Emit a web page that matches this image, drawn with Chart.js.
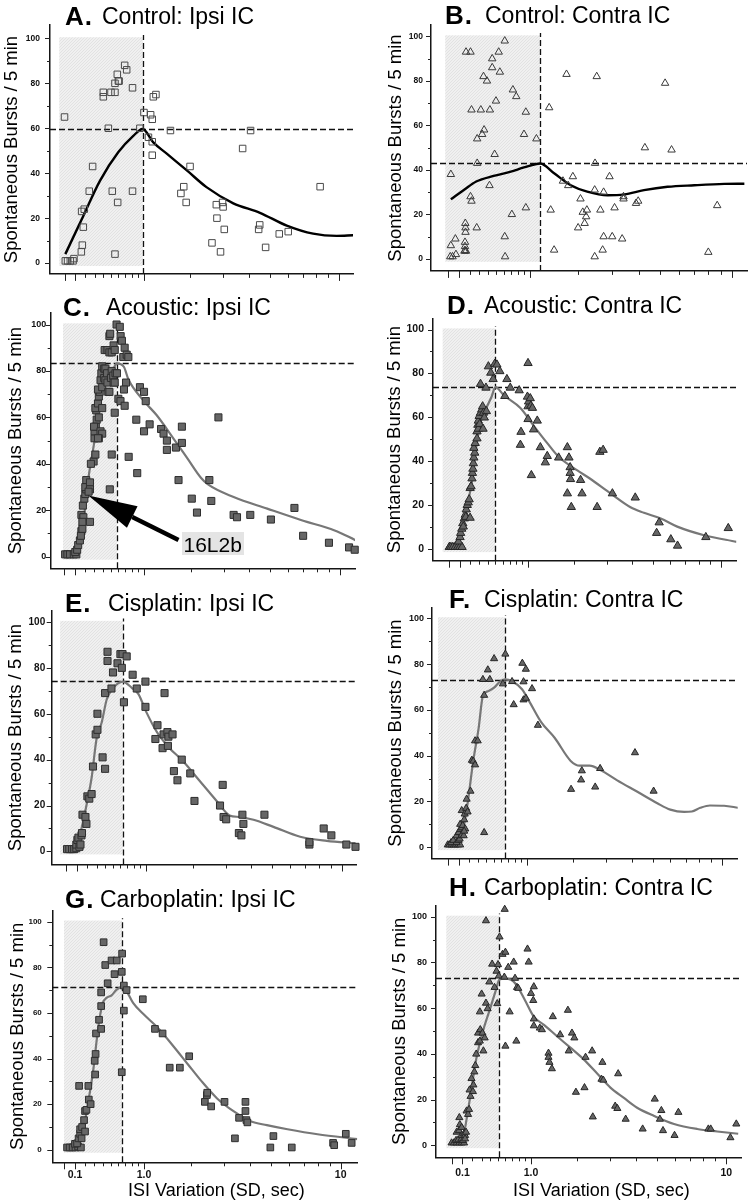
<!DOCTYPE html>
<html><head><meta charset="utf-8">
<script src="https://cdn.jsdelivr.net/npm/chart.js@4/dist/chart.umd.min.js"></script>
<style>
html,body{margin:0;padding:0;background:#fff;}
body{width:754px;height:1201px;position:relative;overflow:hidden;font-family:"Liberation Sans",Arial,Helvetica,sans-serif;}
canvas{position:absolute;}
.t{position:absolute;white-space:nowrap;line-height:1;color:#000;}
</style></head><body>
<script>
// ---------------- DATA (ISI variation in seconds, bursts / 5 min) ----------------
// A. Control: Ipsi IC
const ctrlIpsiX = [0,0.007,0.027,0.052,0.077,0.086,0.158,0.168,0.178,0.161,0.188,0.241,0.278,0.403,0.403,0.466,0.5,0.517,0.553,0.553,0.585,0.6,0.61,0.553,0.59,0.69,0.72,0.81,0.81,0.93,1.0,1.08,1.12,1.15,1.17,1.22,1.15,1.15,1.52,1.76,1.83,1.89,1.99,2.62,2.76,2.78,2.9,2.97,2.99,3.03,3.73,4.07,4.44,4.49,4.78,5.51,6.04,8.3];
const ctrlIpsiY = [65,1,1,1,1,2,5,8,16,23,24,32,43,74,76,60,76,32,76,80,84,81,81,4,27,88,86,78,32,60,67,56,66,64,74,75,54,48,59,31,34,27,43,9,26,20,5,27,25,15,51,59,15,17,7,13,14,34];
const ctrlIpsiFitX = [0.007,0.178,0.362,0.6,0.822,0.977,1.17,1.44,1.93,2.45,3.36,4.5,5.95,7.75,9.74,11.4];
const ctrlIpsiFitY = [4,21,36.6,49.4,56.6,59.7,53.7,48.7,40.9,33.8,26.6,22.4,16.7,13.1,12.1,12.4];

// B. Control: Contra IC
const ctrlContraX = [0.025,0.025,0.02,0.04,0.07,0.065,0.165,0.21,0.158,0.16,0.16,0.155,0.155,0.155,0.15,0.165,0.21,0.22,0.22,0.275,0.28,0.28,0.32,0.335,0.357,0.35,0.39,0.425,0.42,0.453,0.453,0.483,0.5,0.535,0.55,0.615,0.615,0.62,0.715,0.73,0.78,0.9,0.93,0.93,1.11,1.35,1.38,1.45,1.64,1.72,1.76,1.87,2.0,2.06,2.12,2.17,2.21,2.23,2.45,2.46,2.45,2.51,2.62,2.69,2.72,2.72,2.91,3.0,3.08,3.35,3.4,3.4,3.89,3.98,4.27,5.25,5.6,8.0,8.7];
const ctrlContraY = [38,6,1,1,2,9,93,93,16,14,12,7.5,5.6,3.8,3.5,3.5,28,26,67,14,54,43,67,56,58,82,80,67,33,90,86,47,71,93,84,98,10,1,20,76,73,56,66,23,54,68,22,4,35,83,33,37,14,27,21,16,19,22,1,43,31,82,22,4,10,30,37,10,23,9,27,28,25,26,50,79,49,3,24];
const ctrlContraFitX = [0.025,0.15,0.27,0.47,0.7,0.9,1.18,1.45,1.82,2.24,2.85,3.43,4.23,5.38,7.0,9.3,11.2];
const ctrlContraFitY = [26.8,31.2,34.8,37.3,39.2,41.1,42.9,38.5,33.1,30.2,28.6,29,30.9,32.4,33.1,33.7,33.8];

// C. Acoustic: Ipsi IC
const acIpsiX = [0.007,0.027,0.05,0.086,0.11,0.1,0.118,0.128,0.145,0.16,0.155,0.17,0.16,0.18,0.17,0.175,0.19,0.2,0.21,0.2,0.21,0.25,0.25,0.235,0.25,0.29,0.31,0.26,0.3,0.3,0.315,0.325,0.295,0.32,0.31,0.34,0.35,0.36,0.34,0.35,0.37,0.39,0.38,0.39,0.37,0.39,0.39,0.35,0.34,0.415,0.43,0.42,0.455,0.48,0.49,0.48,0.415,0.43,0.45,0.455,0.465,0.5,0.51,0.53,0.535,0.55,0.56,0.51,0.535,0.55,0.48,0.51,0.485,0.55,0.575,0.62,0.632,0.65,0.58,0.6,0.63,0.67,0.69,0.72,0.745,0.71,0.68,0.69,0.75,0.87,0.885,0.93,1.0,1.0,1.03,1.1,1.32,1.37,1.44,1.44,1.64,1.7,1.78,1.78,2.03,2.17,2.53,2.59,2.82,3.36,3.49,4.04,5.03,6.4,6.98,8.99,10.9,11.5];
const acIpsiY = [1,1,1,1,1,2,3,5,7,11,9,12,18,17,15,22,25,27,29,30,33,32,29,28,15,41,44,40,51,54,56,59,56,63,64,66,69,71,72,60,76,73,79,82,54,53,64,51,51,81,81,89,89,95,96,88,77,76,79,75,71,77,80,78,75,75,79,88,91,89,71,44,29,62,100,99,95,93,79,68,67,86,90,87,86,75,72,65,43,59,36,73,71,54,67,57,55,53,50,46,47,33,56,49,25,19,33,24,60,18,17,18,16,21,9,6,4,3];
const acIpsiFitX = [0.027,0.1,0.145,0.2,0.23,0.3,0.35,0.43,0.55,0.578,0.68,0.745,1.0,1.23,1.58,1.93,2.28,2.5,3.36,4.84,6.88,9.5,11.6];
const acIpsiFitY = [0.7,1.4,7.9,21.4,32.9,50,64.3,75.7,82,83.3,81.7,76.4,67,61,51,42,34,31,25.7,20.7,15.7,11.3,7.1];

// D. Acoustic: Contra IC
const acContraX = [0,0,0.013,0.03,0.052,0.074,0.095,0.118,0.083,0.098,0.104,0.115,0.125,0.14,0.15,0.13,0.16,0.17,0.18,0.19,0.155,0.2,0.2,0.21,0.22,0.225,0.23,0.235,0.24,0.25,0.24,0.255,0.275,0.275,0.285,0.29,0.3,0.315,0.33,0.34,0.29,0.305,0.345,0.35,0.385,0.36,0.315,0.38,0.41,0.44,0.47,0.49,0.52,0.56,0.63,0.66,0.71,0.85,0.88,0.87,1.0,1.0,1.01,0.99,1.0,1.04,1.05,1.08,1.1,1.17,1.06,1.23,1.33,1.37,1.62,1.83,1.87,1.9,1.9,1.83,1.91,1.93,2.18,2.22,2.68,2.77,2.88,3.21,4.15,5.36,5.22,6.05,6.48,8.6,10.7];
const acContraY = [1,1,1,1,1,1,1,1,3.5,5.5,7.4,9.3,11.8,14,15.7,10.3,18.1,20.1,21.3,22.7,14.7,14.3,27.8,28.6,32.2,34.7,36.6,39.1,41.7,43.9,46.1,48.3,50.4,53.6,56.6,58.5,60.6,62.1,63.6,65,54.8,57,54.8,62.1,62.8,59.9,75.2,73.5,83.2,80.3,77.4,84.3,84,81,69.7,77.4,73.5,72.3,53.4,47.5,84.7,65,67.2,69.4,59.2,68.7,65.3,64.3,54.5,58.5,33.7,46.4,39.5,42.4,41.7,46.4,41.7,37.3,34.7,25.4,31.9,19.2,31.5,25.4,19.2,44.3,45.2,25.4,23.5,12.2,7.4,4.5,1.6,5.5,9.6];
const acContraFitX = [0,0.07,0.115,0.16,0.22,0.265,0.315,0.385,0.45,0.5,0.615,0.87,1.1,1.37,1.62,2.09,2.45,3.14,3.94,4.56,5.45,6.46,8.45,11.6];
const acContraFitY = [1.2,3.8,9.6,18.4,30.8,46.1,57.7,64.3,69.4,73.8,70.1,64.3,56.3,48.3,42.1,35.9,32.2,25.4,19.1,16.6,14,10.3,6.4,3.4];

// E. Cisplatin: Ipsi IC
const cisIpsiX = [0.005,0.025,0.05,0.07,0.09,0.09,0.1,0.11,0.12,0.13,0.14,0.145,0.15,0.18,0.19,0.2,0.22,0.245,0.26,0.29,0.31,0.31,0.37,0.4,0.4,0.43,0.43,0.48,0.5,0.56,0.6,0.62,0.63,0.65,0.69,0.78,0.845,0.99,0.99,1.17,1.21,1.31,1.35,1.33,1.41,1.43,1.52,1.42,1.55,1.63,1.73,1.94,2.05,2.81,2.9,2.93,3.02,3.49,3.59,3.63,3.67,4.61,7.3,7.3,8.4,9.05,10.45,11.4];
const cisIpsiY = [1,1,1,1,1.4,3,5,6,2,3,7,8,16,15,12,24,23,25,37,51,53,60,41,36,69,87,83,71,78,82,86,80,86,65,85,77,71,74,63,49,55,45,69,51,52,50,51,46,35,31,40,34,22,20,29,15,14,8,7,16,12,16,3,4,10,7,3,2];
const cisIpsiFitX = [0.005,0.1,0.14,0.2,0.245,0.3,0.36,0.42,0.49,0.633,0.77,0.87,1.01,1.2,1.46,1.73,2.2,2.7,3.14,3.52,4.1,5.07,6.66,8.66,11.4];
const cisIpsiFitY = [0.7,3.6,10,22.1,32.1,49.1,56.3,66.2,70.7,74,71.2,68.7,60.5,52,44.9,39.9,30.6,22,15.7,15,13.8,10.7,6.4,4.6,3.6];

// F. Cisplatin: Contra IC
const cisContraX = [0,0.013,0.035,0.055,0.072,0.095,0.115,0.03,0.05,0.08,0.1,0.11,0.08,0.1,0.115,0.13,0.13,0.15,0.115,0.14,0.165,0.155,0.155,0.13,0.16,0.175,0.18,0.19,0.22,0.235,0.25,0.27,0.27,0.3,0.375,0.375,0.36,0.42,0.445,0.5,0.62,0.655,0.755,0.78,0.92,0.94,0.98,0.94,0.98,1.09,1.2,1.94,2.21,2.23,2.63,2.79,4.14,5.05];
const cisContraY = [1,1,1,1,1,1,1,2,3,2,3,3.6,5,6.4,7.8,8.5,5.3,5,10,9.5,8,7,12,16,14.5,17,21,15.4,24.5,38,37.6,36,46.5,46.5,6.4,66.4,73.3,77.5,73.3,82.4,71.4,84.4,72.4,62.3,80.4,72.3,77.8,64.4,65.1,69.3,53.3,25.3,29.4,33.4,26.3,34.4,41.3,24.5];
const cisContraFitX = [0,0.08,0.15,0.19,0.25,0.31,0.36,0.43,0.5,0.58,0.655,0.755,0.915,1.05,1.26,1.55,1.93,2.17,2.46,2.8,3.4,4.25,5.25,6.0,6.9,7.45,8.1,8.9,10.2,11.7];
const cisContraFitY = [1.1,3.6,9.2,19.2,37.7,51.9,66.1,68.3,69.7,72.4,73.3,72.5,69,63.3,54.8,47.7,37.7,35.6,35.6,33.7,29.2,24.2,19.2,16.4,15.4,15.6,17.2,18.2,18.1,17.2];

// G. Carboplatin: Ipsi IC
const carbIpsiX = [0.027,0.05,0.078,0.105,0.13,0.158,0.1,0.12,0.135,0.15,0.165,0.14,0.15,0.17,0.19,0.2,0.215,0.2,0.24,0.235,0.26,0.305,0.315,0.31,0.32,0.355,0.38,0.38,0.38,0.41,0.43,0.46,0.51,0.55,0.58,0.655,0.65,0.68,0.72,0.68,0.65,0.98,1.2,1.35,1.5,1.73,1.96,2.39,2.45,2.46,2.58,3.02,3.4,3.56,3.82,3.82,3.86,3.9,4.98,5.14,6.2,9.3,9.4,10.5,11.1];
const carbIpsiY = [1,1,1,1,1.4,1,2.6,2.8,5,7,5,28,9,10,13,17,17.5,8,22,28,20,39,42,33,51,57,53,63,69,91,81,73,83,77,83,86,78,72,70,61,34,66,53,51,36,36,41,21,24,25,19,21,5,14,21,17,13,12,1,6,1,3,2,7,3];
const carbIpsiFitX = [0.027,0.13,0.19,0.24,0.29,0.33,0.36,0.4,0.445,0.51,0.575,0.653,0.72,0.82,0.99,1.24,1.59,1.93,2.28,2.77,3.36,4.04,4.8,5.94,8.0,11.7];
const carbIpsiFitY = [1.1,5.4,11.1,22.5,35.3,48.8,57.3,64.4,66.6,67.7,70.1,71.3,69.5,64.4,59.5,53.8,45.2,37.4,30.3,22.5,16.8,12.5,10.8,9.0,6.8,4.7];

// H. Carboplatin: Contra IC
const carbContraX = [0,0.02,0.045,0.07,0.093,0.115,0.04,0.06,0.09,0.105,0.045,0.067,0.092,0.115,0.07,0.075,0.092,0.125,0.135,0.125,0.14,0.155,0.165,0.18,0.17,0.19,0.205,0.21,0.22,0.23,0.24,0.26,0.26,0.28,0.285,0.28,0.3,0.31,0.32,0.335,0.35,0.37,0.35,0.39,0.425,0.455,0.48,0.49,0.5,0.51,0.52,0.56,0.585,0.59,0.6,0.6,0.64,0.66,0.72,0.74,0.76,0.77,0.79,0.94,0.96,1.0,1.04,1.05,1.05,1.05,1.16,1.2,1.42,1.33,1.33,1.35,1.4,1.58,1.76,1.86,1.92,1.78,1.96,2.19,2.22,2.41,2.43,2.73,2.7,2.76,3.17,3.25,3.28,3.57,4.3,4.89,5.16,5.24,5.33,6.0,6.24,8.4,8.6,10.4,11.0];
const carbContraY = [1,1,1,1,1,1,2.1,2.4,2.8,2.1,5.7,6.4,4.3,5,12.1,9,7.8,4.3,5.7,2.8,15,13.5,15.7,21.4,24.2,29.2,23.5,26.4,32.1,34.9,39.9,44.9,49.1,45.6,50.6,58.4,66.2,49.1,41.3,47,62.2,59.8,98.3,71.5,79.3,69.1,76.2,62,79.1,74.1,91.2,83.6,73.6,103.3,43.4,84.5,77.9,58.4,80.2,73.1,45.6,69.1,68.7,85.9,80.2,66.5,63.4,69.4,55.3,52.3,51.3,50.6,56.3,40.3,38.5,36.3,33.5,48.4,59.1,49.1,47,41.3,23.2,25.2,38.5,41.3,12.4,36.3,28.9,28.5,17.1,16.1,31.3,11.4,7.1,20.2,11.4,15.2,6.4,4.3,14.4,7.1,7.1,3.3,9.3];
const carbContraFitX = [0,0.105,0.14,0.19,0.24,0.32,0.4,0.47,0.517,0.585,0.68,0.77,0.9,1.05,1.24,1.51,1.82,2.16,2.57,3.0,3.5,4.05,4.86,5.97,7.53,9.16,11.2];
const carbContraFitY = [1,3.6,11.4,24.9,37.7,50.6,59.8,67.7,72.5,72.9,72.5,69.8,63.4,56.3,52.7,47.7,42.7,37.7,31.3,25.2,20.7,16.4,12.8,9.3,7.1,6,5];

// Peak of each fitted curve (dashed cross-hairs), panels A..H
const peakX = [0.98,1.18,0.578,0.499,0.633,0.654,0.653,0.517];
const peakY = [59.7,42.9,83.5,73.8,74.1,73.2,71.3,73.4];

// Text
const panelLetters = ['A.','B.','C.','D.','E.','F.','G.','H.'];
const panelTitles = ['Control: Ipsi IC','Control: Contra IC','Acoustic: Ipsi IC','Acoustic: Contra IC','Cisplatin: Ipsi IC','Cisplatin: Contra IC','Carboplatin: Ipsi IC','Carboplatin: Contra IC'];
const yAxisTitle = 'Spontaneous Bursts / 5 min';
const xAxisTitle = 'ISI Variation (SD, sec)';

// Ticks
const xTickValues = [0,0.1,0.2,0.3,0.4,0.5,0.6,0.7,0.8,0.9,1,2,3,4,5,6,7,8,9,10];
const xTickLabels = ['','0.1','','','','','','','','','1.0','','','','','','','','','10'];
const xTickMajor = [1,1,0,0,0,0,0,0,0,0,1,0,0,0,0,0,0,0,0,1];
const yTickValues = [0,10,20,30,40,50,60,70,80,90,100];

// ---------------- LAYOUT / STYLE ----------------
const U = v => Math.log10(1 + v);   // axis transform: log10(ISI + 1)
const FONT = '"Liberation Sans", Arial, Helvetica, sans-serif';

const series = [
  {px:ctrlIpsiX, py:ctrlIpsiY, fx:ctrlIpsiFitX, fy:ctrlIpsiFitY},
  {px:ctrlContraX, py:ctrlContraY, fx:ctrlContraFitX, fy:ctrlContraFitY},
  {px:acIpsiX, py:acIpsiY, fx:acIpsiFitX, fy:acIpsiFitY},
  {px:acContraX, py:acContraY, fx:acContraFitX, fy:acContraFitY},
  {px:cisIpsiX, py:cisIpsiY, fx:cisIpsiFitX, fy:cisIpsiFitY},
  {px:cisContraX, py:cisContraY, fx:cisContraFitX, fy:cisContraFitY},
  {px:carbIpsiX, py:carbIpsiY, fx:carbIpsiFitX, fy:carbIpsiFitY},
  {px:carbContraX, py:carbContraY, fx:carbContraFitX, fy:carbContraFitY}
];

const styles = [
  {shape:'rect', r:4.6, fill:'rgba(0,0,0,0)', stroke:'#4a4a4a', line:'#000', lw:2.4},
  {shape:'triangle', r:4.3, fill:'rgba(0,0,0,0)', stroke:'#3a3a3a', line:'#000', lw:2.4},
  {shape:'rect', r:5.0, fill:'#666666', stroke:'#2e2e2e', line:'#777777', lw:2.2},
  {shape:'triangle', r:4.8, fill:'#666666', stroke:'#262626', line:'#777777', lw:2.2},
  {shape:'rect', r:5.0, fill:'#666666', stroke:'#2e2e2e', line:'#777777', lw:2.2},
  {shape:'triangle', r:4.1, fill:'#666666', stroke:'#262626', line:'#777777', lw:2.2},
  {shape:'rect', r:4.7, fill:'#666666', stroke:'#2e2e2e', line:'#777777', lw:2.2},
  {shape:'triangle', r:4.1, fill:'#666666', stroke:'#262626', line:'#777777', lw:2.2}
];

const layout = [
  {axisX:50,   right:353,   top:18.3,  bottom:277,    tcx:11.7,  uMin:-0.055, uMax:1.093, yMin:-4.8, yMax:105.9, yPad:10,  yFs:8.5, shadeU:-0.02,  letterL:65,  textL:102, base:24},
  {axisX:431,  right:747,   top:20,    bottom:271.7,  tcx:396.2, uMin:-0.062, uMax:1.096, yMin:-5.4, yMax:105.1, yPad:8,   yFs:8.5, shadeU:-0.01,  letterL:445, textL:485, base:23},
  {axisX:50.7, right:355,   top:311.7, bottom:568.3,  tcx:15.8,  uMin:-0.0515,uMax:1.098, yMin:-5.0, yMax:105.0, yPad:4.5, yFs:9,   shadeU:-0.005, letterL:63,  textL:106, base:315},
  {axisX:433,  right:736.3, top:311.7, bottom:564,    tcx:394.5, uMin:-0.063, uMax:1.099, yMin:-5.2, yMax:105.1, yPad:9,   yFs:10.5,shadeU:-0.026, letterL:447, textL:484, base:313},
  {axisX:51.7, right:356.7, top:606,   bottom:865,    tcx:15.8,  uMin:-0.0558,uMax:1.098, yMin:-5.7, yMax:105,   yPad:6.5, yFs:10,  shadeU:-0.024, letterL:65,  textL:108, base:611},
  {axisX:432,  right:737.7, top:602.7, bottom:860,    tcx:396,   uMin:-0.0597,uMax:1.101, yMin:-5.0, yMax:104.8, yPad:8,   yFs:9,   shadeU:-0.037, letterL:449, textL:484, base:607},
  {axisX:52.3, right:357.3, top:903.3, bottom:1162.3, tcx:17.5,  uMin:-0.044, uMax:1.104, yMin:-5.5, yMax:105,   yPad:10.5,yFs:8,   shadeU:0.0,    letterL:65,  textL:100, base:907.5, xLabels:true, xPad:6.7, xTitleL:128},
  {axisX:436,  right:741,   top:899.3, bottom:1157.3, tcx:399.5, uMin:-0.059, uMax:1.097, yMin:-5.3, yMax:105,   yPad:9,   yFs:9,   shadeU:-0.02,  letterL:449, textL:484, base:895,   xLabels:true, xPad:9.7, xTitleL:513}
];

// annotation in panel C
const annotC = {tipX:0.232, tipY:26.4, tailX:1.70, tailY:7.2, head:49, half:12, label:'16L2b'};

function shadePattern(ctx){
  const c = document.createElement('canvas'); c.width = 3; c.height = 3;
  const g = c.getContext('2d');
  g.fillStyle = '#f0f0f0'; g.fillRect(0,0,3,3);
  g.fillStyle = '#e2e2e2'; g.fillRect(0,0,1,1); g.fillRect(1,2,1,1); g.fillRect(2,1,1,1);
  return ctx.createPattern(c, 'repeat');
}

const decor = {
  id: 'decor',
  beforeDatasetsDraw(chart, args, o){
    const {ctx, chartArea: ca, scales: {x, y}} = chart;
    ctx.save();
    const xl = x.getPixelForValue(o.shadeU);
    const xr = x.getPixelForValue(U(o.peakX));
    const yt = y.getPixelForValue(100.5), yb = y.getPixelForValue(-1.3);
    ctx.fillStyle = shadePattern(ctx);
    ctx.fillRect(xl, yt, xr - xl, yb - yt);
    ctx.strokeStyle = '#111'; ctx.lineWidth = 1.3; ctx.setLineDash([6, 3]);
    const hy = Math.round(y.getPixelForValue(o.peakY)) + 0.5;
    ctx.beginPath(); ctx.moveTo(ca.left, hy); ctx.lineTo(ca.right, hy); ctx.stroke();
    const vx = Math.round(xr) + 0.5;
    ctx.beginPath(); ctx.moveTo(vx, ca.bottom); ctx.lineTo(vx, y.getPixelForValue(101.5)); ctx.stroke();
    ctx.restore();
  },
  afterDatasetsDraw(chart, args, o){
    const {ctx, chartArea: ca, scales: {x, y}} = chart;
    ctx.save();
    ctx.setLineDash([]);
    ctx.strokeStyle = '#222'; ctx.lineWidth = 1;
    yTickValues.forEach(v => {
      const py = Math.round(y.getPixelForValue(v)) + 0.5;
      const len = v % 20 === 0 ? 5 : 3;
      ctx.beginPath(); ctx.moveTo(ca.left - len, py); ctx.lineTo(ca.left, py); ctx.stroke();
    });
    xTickValues.forEach((v, i) => {
      const px = Math.round(x.getPixelForValue(U(v))) + 0.5;
      const len = xTickMajor[i] ? 7 : 4;
      ctx.beginPath(); ctx.moveTo(px, ca.bottom); ctx.lineTo(px, ca.bottom + len); ctx.stroke();
    });
    if (o.arrow) {
      const a = o.arrow;
      const tx = x.getPixelForValue(U(a.tipX)), ty = y.getPixelForValue(a.tipY);
      const sx = x.getPixelForValue(U(a.tailX)), sy = y.getPixelForValue(a.tailY);
      const dx = tx - sx, dy = ty - sy, len = Math.hypot(dx, dy), ux = dx / len, uy = dy / len;
      const bx = tx - ux * a.head, by = ty - uy * a.head;
      ctx.fillStyle = '#000'; ctx.strokeStyle = '#000'; ctx.lineWidth = 4.5;
      ctx.beginPath(); ctx.moveTo(sx, sy); ctx.lineTo(bx, by); ctx.stroke();
      ctx.beginPath(); ctx.moveTo(tx, ty);
      ctx.lineTo(bx - uy * a.half, by + ux * a.half);
      ctx.lineTo(bx + uy * a.half, by - ux * a.half);
      ctx.closePath(); ctx.fill();
    }
    ctx.restore();
  }
};

function addText(txt, left, baseline, size, weight, extra){
  const d = document.createElement('div');
  d.className = 't'; d.textContent = txt;
  d.style.left = left + 'px';
  d.style.top = (baseline - 0.8465 * size) + 'px';
  d.style.fontSize = size + 'px';
  d.style.fontWeight = weight;
  if (extra) Object.assign(d.style, extra);
  document.body.appendChild(d);
  return d;
}

const TITLE_FS = 18.5, TITLE_HALF = TITLE_FS * 1.2 / 2;

series.forEach((s, i) => {
  const L = layout[i], S = styles[i];
  const xH = L.xLabels ? (1201 - L.bottom) : 12;
  const cl = Math.floor(L.tcx - TITLE_HALF);
  const titlePad = (L.tcx - TITLE_HALF) - cl;
  const ct = Math.floor(L.top - 8);
  const cr = Math.ceil(L.right + 8);
  const cb = Math.min(1201, Math.ceil(L.bottom + xH));
  const cv = document.createElement('canvas');
  cv.width = cr - cl; cv.height = cb - ct;
  cv.style.left = cl + 'px'; cv.style.top = ct + 'px';
  cv.style.width = (cr - cl) + 'px'; cv.style.height = (cb - ct) + 'px';
  document.body.appendChild(cv);

  const yW = L.axisX - cl;
  new Chart(cv, {
    type: 'scatter',
    data: {
      datasets: [
        {
          type: 'scatter', order: 0, clip: false,
          data: s.px.map((v, k) => ({x: U(v), y: s.py[k]})),
          pointStyle: S.shape, pointRadius: S.r,
          pointBackgroundColor: S.fill, pointBorderColor: S.stroke, pointBorderWidth: 1
        },
        {
          type: 'line', order: 1,
          data: s.fx.map((v, k) => ({x: U(v), y: s.fy[k]})),
          borderColor: S.line, borderWidth: S.lw, pointRadius: 0,
          cubicInterpolationMode: 'monotone', fill: false
        }
      ]
    },
    options: {
      responsive: false, animation: false, devicePixelRatio: 1,
      layout: {padding: {left: 0, top: L.top - ct, right: cr - L.right, bottom: Math.max(0, cb - L.bottom - xH)}},
      plugins: {
        legend: {display: false}, tooltip: {enabled: false},
        decor: {shadeU: L.shadeU, peakX: peakX[i], peakY: peakY[i], arrow: i === 2 ? annotC : null}
      },
      scales: {
        x: {
          type: 'linear', min: L.uMin, max: L.uMax,
          grid: {display: false, drawTicks: false},
          border: {display: true, color: '#151515', width: 1.5},
          afterBuildTicks: sc => { sc.ticks = xTickValues.map(v => ({value: U(v)})); },
          afterFit: sc => { sc.height = xH; },
          ticks: {
            display: !!L.xLabels, autoSkip: false, maxRotation: 0, minRotation: 0,
            padding: L.xPad || 0, color: '#111',
            font: {family: FONT, size: 10.5, weight: 'bold'},
            callback: (v, idx) => xTickLabels[idx]
          }
        },
        y: {
          type: 'linear', min: L.yMin, max: L.yMax,
          grid: {display: false, drawTicks: false},
          border: {display: true, color: '#151515', width: 1.5},
          afterBuildTicks: sc => { sc.ticks = yTickValues.map(v => ({value: v})); },
          afterFit: sc => { sc.width = yW; },
          ticks: {
            autoSkip: false, padding: L.yPad, color: '#111',
            font: {family: FONT, size: L.yFs, weight: 'bold'},
            callback: v => (v % 20 === 0 ? String(v) : '')
          },
          title: {
            display: true, text: yAxisTitle, color: '#000',
            font: {family: FONT, size: TITLE_FS},
            padding: {top: titlePad, bottom: 0}
          }
        }
      }
    },
    plugins: [decor]
  });
});

// panel titles
layout.forEach((L, i) => {
  addText(panelLetters[i], L.letterL, L.base + 1, 26, 'bold', {letterSpacing: '1px'});
  addText(panelTitles[i], L.textL, L.base, 23, 'normal');
  if (L.xLabels) addText(xAxisTitle, L.xTitleL, 1196, 18, 'normal');
});

// "16L2b" label box in panel C
const lab = document.createElement('div');
Object.assign(lab.style, {position: 'absolute', left: '181.7px', top: '531.7px', width: '62.3px', height: '23.3px', background: '#e4e4e4'});
document.body.appendChild(lab);
addText(annotC.label, 183.5, 551.7, 21, 'normal');
</script>
</body></html>
